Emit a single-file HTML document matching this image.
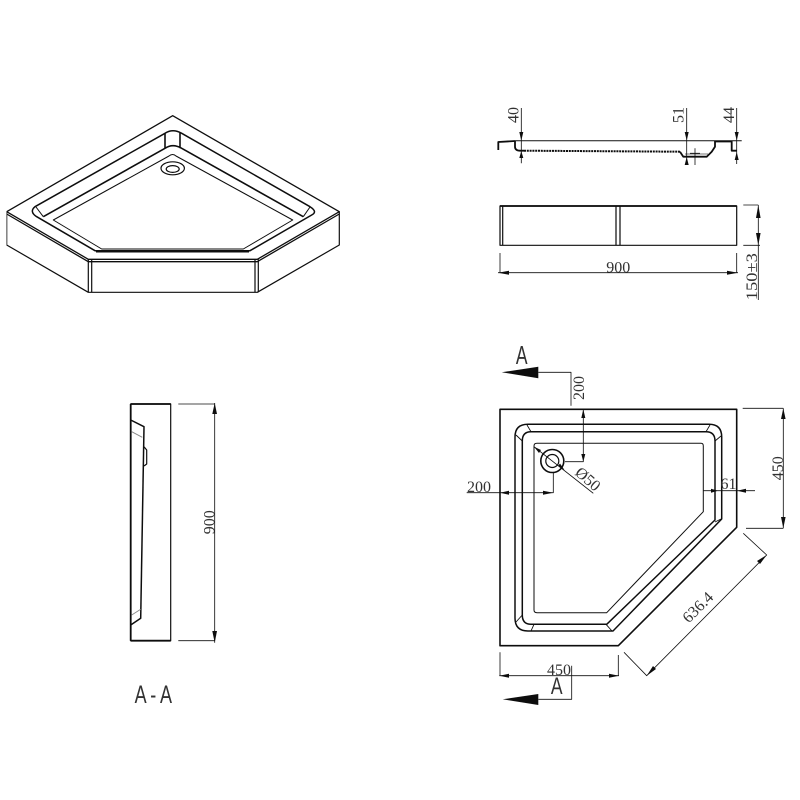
<!DOCTYPE html>
<html><head><meta charset="utf-8"><style>
html,body{margin:0;padding:0;background:#fff}
svg{display:block}
text{font-family:"Liberation Serif",serif;font-size:16px;fill:#333;text-anchor:middle}
.a{font-family:"Liberation Sans",sans-serif;font-size:25px;fill:#333}
</style></head><body>
<svg width="800" height="800" viewBox="0 0 800 800" xmlns="http://www.w3.org/2000/svg">
<defs><filter id="s" x="0" y="0" width="100%" height="100%"><feGaussianBlur stdDeviation="0.3"/></filter></defs>
<rect width="800" height="800" fill="#fff"/>
<g filter="url(#s)">
<g fill="none" stroke="#111" stroke-width="1.2" stroke-linejoin="round">
<!-- ISO VIEW -->
<path d="M6.7 211.7L172.7 115.7L339.3 211.7L257.3 259.3H88.3Z" stroke-width="1.3"/>
<path d="M6.7 214L88.3 261.7H257.3L339.3 214" stroke-width="1.3"/>
<path d="M6.7 211.7V245L88.3 292.3H257.3L339.3 245V211.7"/>
<path d="M88.3 259.3V292.3M91.7 260V292.3M255 260V292.3M258.3 259.3V292.3"/>
<path d="M165 133.3L35 206.7Q29 211.7 36.7 216.7L95 250.7H250L311.7 215Q318 211.7 310 206.7L181.7 133.3Q172.7 128.3 165 133.3Z" stroke-width="1.5"/>
<path d="M165 148.3L43.3 216.7M181.7 148.3L303.3 216.7M165 133.3V148.3M180 133V148.3M165 148.3Q172.7 143 181.7 148.3" stroke-width="1.6"/>
<path d="M36 207L43.3 216.7M310 207L303.3 216.7" stroke-width="1"/>
<path d="M169 156Q172.7 153 176 156L292.7 220L243.3 249H101.7L53.3 220Z" stroke-width="1"/>
<path d="M96 252H249" stroke-width="1"/>
<ellipse cx="172.7" cy="168.3" rx="11.7" ry="6.5"/>
<ellipse cx="172.7" cy="169" rx="6.5" ry="3.4"/>

<!-- SECTION TOP RIGHT -->
<path d="M515 140.7H741.7" stroke-width="1"/>
<path d="M498.3 150V142L515 141" stroke-width="1.8"/>
<path d="M515 141V146.7Q515 150.5 520 150.7H524" stroke-width="1.8"/>
<path d="M524 150.7L680 151.7" stroke-width="2" stroke-dasharray="2 0.8"/>
<path d="M680 151.7L683.3 156.7H706.7L711.7 151.7L715 146.7V141" stroke-width="1.8"/>
<path d="M715 141.5H731.7V150.7H737" stroke-width="1.8"/>
<path d="M685 154H708" stroke="#777" stroke-width="1"/>
<path d="M521.3 108V163.3M686.7 108V165M736.7 108V164M695 148.3V165M690 153.3H700" stroke-width="0.8"/>

<!-- FRONT ELEVATION -->
<rect x="500" y="206" width="236.7" height="39.3"/>
<path d="M500 206H736.7" stroke-width="1.8"/>
<path d="M502.7 206V245.3M616 206V245.3M620 206V245.3"/>
<path d="M743.3 205H758.3M743.3 245.3H760M758.3 205V300M500 253V272.7M736.7 253V272.7M498 272.7H738" stroke-width="0.8"/>

<!-- A-A VIEW -->
<rect x="130.7" y="404" width="40" height="236.7"/>
<path d="M130.7 404H170.7M130.7 640.7H170.7M130.7 404V640.7" stroke-width="1.8"/>
<path d="M130.7 420L144 426.7L140.7 618.3L130.7 625" stroke-width="1.5"/>
<path d="M131.7 431.7L142.3 437.3M131.7 615L140.7 609.3" stroke="#888" stroke-width="0.9"/>
<path d="M144 446.7L146.7 450V464L144 466" stroke-width="1.2"/>
<path d="M178.3 404H214.7M178.3 640.7H214.7M214.7 403V642.7" stroke-width="0.8"/>

<!-- TOP VIEW -->
<path d="M500 409.3H736.7V527.3L618.3 645.7H500Z" stroke-width="1.6"/>
<path d="M528 424.3H709Q721.7 424.3 721.7 437V519L613 631H528Q515 631 515 618V437Q515 424.3 528 424.3Z" stroke-width="1.5"/>
<path d="M531 431.7H706Q715 431.7 715 441V520L606.7 624.3H531Q522.3 624.3 522.3 615V441Q522.3 431.7 531 431.7Z" stroke-width="1.5"/>
<path d="M516 435L522.3 441M527 425L531 431.7M710 425L706 431.7M721 436L715 441M516 622L522.3 615M531 631L534 624.3M721 519L715 522M606 624.3L612 631" stroke-width="0.9"/>
<path d="M537 443.3H701Q703.3 443.3 703.3 446V511.7L606.7 612.7H537Q534 612.7 534 610V446Q534 443.3 537 443.3Z" stroke-width="1"/>
<circle cx="552.3" cy="461" r="11.5" stroke-width="1.6"/>
<circle cx="552.3" cy="461" r="6.5"/>
<!-- dims -->
<path d="M534 446.7L593.3 493.3" stroke-width="0.9"/>
<path d="M538.3 372.3H571V405.7M583.3 409V461.7H565" stroke-width="0.8"/>
<path d="M466.7 492.7H553.3V473M703.3 490.7H755" stroke-width="0.8"/>
<path d="M742.7 408.3H783.3M746 528.3H783.3M783.3 408.3V528.3" stroke-width="0.8"/>
<path d="M500 652.3V675.7M618.3 655V675.7M499.3 675.7H619" stroke-width="0.8"/>
<path d="M571.7 665.7V699.3H538.3" stroke-width="0.8"/>
<path d="M624 652.3L646.7 675.7L766.7 555L743.3 533.3" stroke-width="0.8"/>
</g>

<!-- arrowheads -->
<g fill="#111">
<polygon points="501.7,372.3 538.3,366.7 538.3,378.3"/>
<polygon points="502.7,699.3 538.3,694 538.3,705"/>
<polygon points="521.3,140.7 519.3,132 523.3,132"/><polygon points="521.3,151 519.3,158 523.3,158"/>
<polygon points="686.7,140.7 684.7,132 688.7,132"/><polygon points="686.7,157 684.7,165 688.7,165"/>
<polygon points="736.7,140.7 734.7,132 738.7,132"/><polygon points="736.7,152 734.7,160 738.7,160"/>
<polygon points="758.3,205 756,218 760.6,218"/><polygon points="758.3,245.3 756,233 760.6,233"/>
<polygon points="498,272.7 509,270.7 509,274.7"/><polygon points="738,272.7 727,270.7 727,274.7"/>
<polygon points="214.7,403 212.3,414 217,414"/><polygon points="214.7,642.7 212.3,631 217,631"/>
<polygon points="583.3,409.3 581.3,418 585.3,418"/>
<polygon points="583.3,461.7 581.3,454 585.3,454"/>
<polygon points="500,492.7 509,490.7 509,494.7"/>
<polygon points="553.3,492.7 543,490.7 543,494.7"/>
<polygon points="718,490.7 711,488.7 711,492.7"/>
<polygon points="737,490.7 746,488.7 746,492.7"/>
<polygon points="783.3,408.3 781,419 785.6,419"/><polygon points="783.3,528.3 781,517 785.6,517"/>
<polygon points="499.3,675.7 509,673.7 509,677.7"/><polygon points="619,675.7 609,673.7 609,677.7"/>
<polygon points="766.7,555 757,561 760,564"/><polygon points="646.7,675.7 653,666 656,669"/>
<polygon points="534,446.7 541,450 539,453"/>
<polygon points="564.5,470 558,466 560,463.5"/>
</g>

<!-- labels -->
<text transform="translate(518.5 115) rotate(-90)">40</text>
<text transform="translate(683.5 115) rotate(-90)">51</text>
<text transform="translate(734 115) rotate(-90)">44</text>
<text x="618.3" y="272.7">900</text>
<text transform="translate(757 276.7) rotate(-90)" textLength="47" lengthAdjust="spacingAndGlyphs">150±3</text>
<text transform="translate(214.3 522.3) rotate(-90)">900</text>
<text transform="translate(584 388) rotate(-90)">200</text>
<text x="479" y="492">200</text>
<text x="728.5" y="489">61</text>
<text transform="translate(783 468.3) rotate(-90)" fill="#555">450</text>
<text x="559" y="675">450</text>
<text transform="translate(584.5 483) rotate(41)">Ø50</text>
<text transform="translate(701.5 611) rotate(-45)">636.4</text>
<text class="a" transform="translate(521.7 364) scale(.7 1.05)">A</text>
<text class="a" transform="translate(556.7 694) scale(.7 .95)">A</text>
<text class="a" transform="translate(153.3 703) scale(.72 1)" textLength="52">A-A</text>
</g>
</svg>
</body></html>
